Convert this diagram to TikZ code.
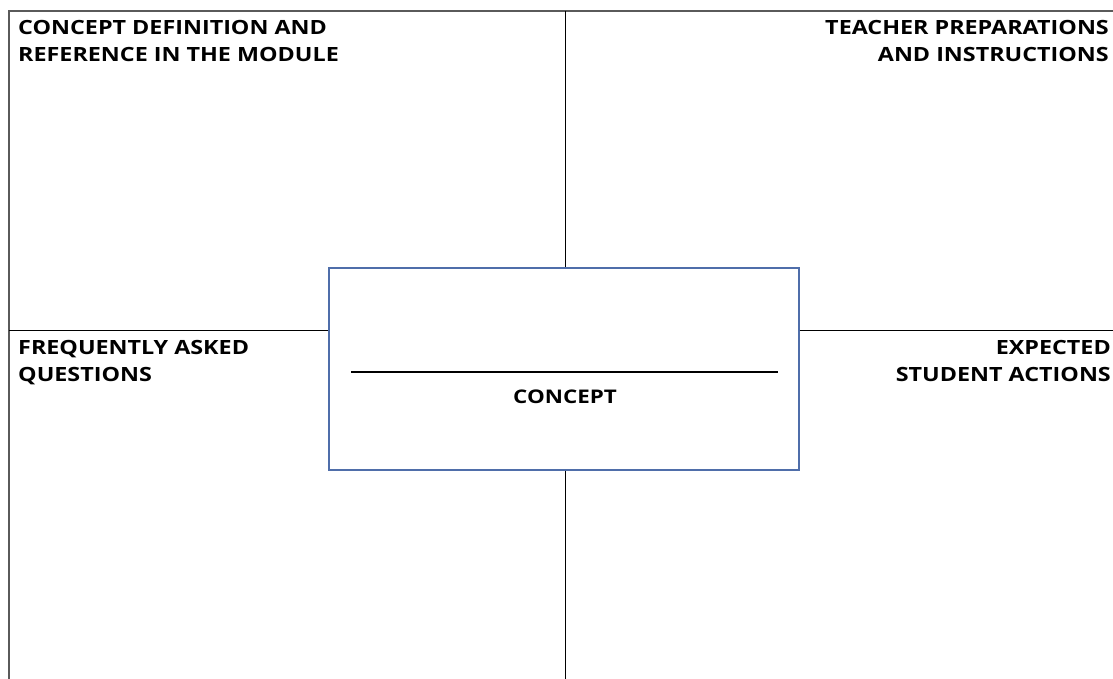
\documentclass[tikz,border=0pt]{standalone}
\usepackage{fontspec}
\setmainfont[FakeStretch=1.19]{Open Sans}
\usepackage{xcolor}
\usetikzlibrary{positioning}

\definecolor{boxblue}{RGB}{79,110,170}
\definecolor{framegray}{RGB}{90,90,90}

\tikzset{
    quadlabel/.style={font=\bfseries\fontsize{19.6}{27}\selectfont, inner sep=0pt, text depth=0pt},
    gridline/.style={draw=black, line width=0.8pt},
    frameline/.style={draw=framegray, line width=1.6pt}
}

\begin{document}
\begin{tikzpicture}[x=1pt, y=-1pt]
    \useasboundingbox (0,0) rectangle (1113,679);

    % Frame
    \coordinate (topleft) at (9,11);
    \coordinate (topright) at (1113,11);
    \coordinate (botleft) at (9,679);
    \draw[frameline] (topright) -- (topleft) -- (botleft);

    % Concept box
    \node[draw=boxblue, line width=1.4pt, minimum width=470pt, minimum height=202pt,
          inner sep=0pt] (concept) at (564,369) {};

    % Dividing lines
    \coordinate (midtop) at (565,11);
    \coordinate (midbot) at (565,679);
    \coordinate (midleft) at (9,330);
    \coordinate (midright) at (1113,330);
    \draw[gridline] (midtop) -- (midtop |- concept.north);
    \draw[gridline] (midbot |- concept.south) -- (midbot);
    \draw[gridline] (midleft) -- (midleft -| concept.west);
    \draw[gridline] (midright -| concept.east) -- (midright);

    % Blank line and label
    \coordinate (blankl) at (351,372);
    \coordinate (blankr) at (778,372);
    \draw[line width=1.6pt] (blankl) -- (blankr);
    \node[quadlabel, font=\bfseries\fontsize{18.8}{20}\selectfont] (conceptlbl) at (565,397) {CONCEPT};

    % Quadrant labels
    \node[quadlabel, anchor=north west, align=left] (deflbl) at (18,20)
        {CONCEPT DEFINITION AND\\REFERENCE IN THE MODULE};
    \node[quadlabel, anchor=north east, align=right] (teachlbl) at (1109,20)
        {TEACHER PREPARATIONS\\AND INSTRUCTIONS};
    \node[quadlabel, anchor=north west, align=left] (faqlbl) at (18,340)
        {FREQUENTLY ASKED\\QUESTIONS};
    \node[quadlabel, anchor=north east, align=right] (actlbl) at (1111,340)
        {EXPECTED\\STUDENT ACTIONS};
\end{tikzpicture}
\end{document}
